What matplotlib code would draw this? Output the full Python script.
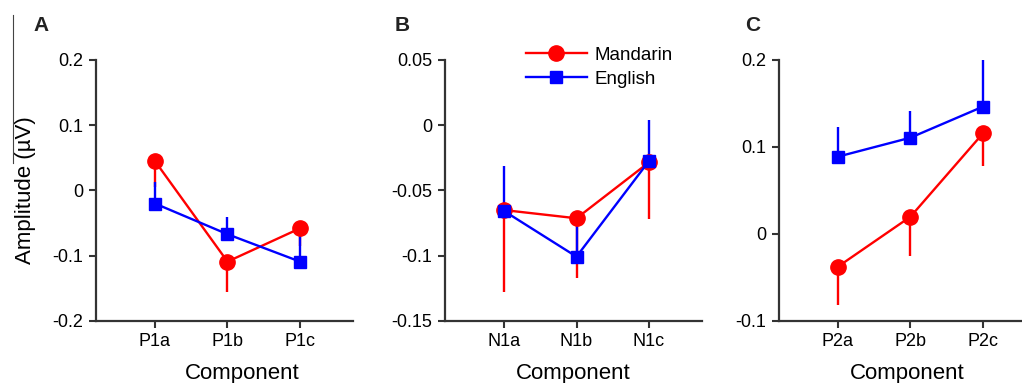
import matplotlib.pyplot as plt
from matplotlib.lines import Line2D

plt.rcParams['font.family'] = ['Liberation Sans', 'DejaVu Sans']

# componentes por painel
comp_a = ["P1a", "P1b", "P1c"]
comp_b = ["N1a", "N1b", "N1c"]
comp_c = ["P2a", "P2b", "P2c"]

# Mandarin: media e erro (para baixo)
mand_a = [0.045, -0.109, -0.058]
mand_a_err = [0.04, 0.046, 0.027]
mand_b = [-0.065, -0.0713, -0.0284]
mand_b_err = [0.063, 0.046, 0.0434]
mand_c = [-0.0375, 0.0199, 0.1157]
mand_c_err = [0.0441, 0.0452, 0.0372]

# English: media e erro (para cima)
eng_a = [-0.02, -0.067, -0.109]
eng_a_err = [0.0335, 0.026, 0.045]
eng_b = [-0.0657, -0.1007, -0.0274]
eng_b_err = [0.0347, 0.0319, 0.0314]
eng_c = [0.0889, 0.1107, 0.1464]
eng_c_err = [0.0345, 0.0307, 0.0536]

yticks_a = [-0.2, -0.1, 0, 0.1, 0.2]
yticks_b = [-0.15, -0.1, -0.05, 0, 0.05]
yticks_c = [-0.1, 0, 0.1, 0.2]

paineis = [
    ("A", comp_a, mand_a, mand_a_err, eng_a, eng_a_err, yticks_a),
    ("B", comp_b, mand_b, mand_b_err, eng_b, eng_b_err, yticks_b),
    ("C", comp_c, mand_c, mand_c_err, eng_c, eng_c_err, yticks_c),
]

fig = plt.figure(figsize=(10.22, 3.83), dpi=100)
lefts = [0.0939, 0.4354, 0.7622]
letra_x = [-0.245, -0.195, -0.132]
spine_cor = "#333333"
vermelho = "#ff0000"
azul = "#0000ff"

for k, (letra, comps, m, m_err, e, e_err, yt) in enumerate(paineis):
    ax = fig.add_axes([lefts[k], 0.1619, 0.2515, 0.6815])
    x = list(range(len(comps)))

    ax.errorbar(x, m, yerr=[m_err, [0] * len(m)], color=vermelho, marker="o",
                markersize=11, linewidth=1.7, elinewidth=1.7, capsize=0,
                clip_on=False)
    ax.errorbar(x, e, yerr=[[0] * len(e), e_err], color=azul, marker="s",
                markersize=8, linewidth=1.7, elinewidth=1.7, capsize=0,
                clip_on=False)

    ax.set_xlim(-0.814, 2.731)
    ax.set_ylim(yt[0], yt[-1])
    ax.set_xticks(x)
    ax.set_xticklabels(comps)
    ax.set_yticks(yt)
    ax.set_yticklabels([f"{v:g}" for v in yt])
    ax.tick_params(direction="out", length=5, width=1.5, color=spine_cor,
                   labelsize=13, pad=4)
    for lado in ["top", "right"]:
        ax.spines[lado].set_visible(False)
    for lado in ["left", "bottom"]:
        ax.spines[lado].set_linewidth(1.6)
        ax.spines[lado].set_color(spine_cor)

    ax.set_xlabel("Component", fontsize=16)
    ax.xaxis.set_label_coords(0.5 if k > 0 else 0.57, -0.16)
    ax.text(letra_x[k], 1.132, letra, transform=ax.transAxes, fontsize=15,
            fontweight="bold", va="center", ha="left", color="#222222")

    if k == 0:
        ax.set_ylabel("Amplitude (\u00b5V)", fontsize=16)
        ax.yaxis.set_label_coords(-0.235, 0.5)
    if k == 1:
        handles = [
            Line2D([], [], color=vermelho, marker="o", markersize=11, linewidth=1.7),
            Line2D([], [], color=azul, marker="s", markersize=8, linewidth=1.7),
        ]
        ax.legend(handles, ["Mandarin", "English"], loc="upper left",
                  bbox_to_anchor=(0.315, 1.05), frameon=False,
                  fontsize=13.5, handlelength=3.25, handletextpad=0.43,
                  labelspacing=0.35, borderaxespad=0, borderpad=0)

# linha perdida no canto superior esquerdo
fig.add_artist(Line2D([13 / 1022, 13 / 1022], [1 - 15 / 383, 1 - 163 / 383],
                      color="#444444", linewidth=0.8))

fig.savefig("out.png", dpi=100)
